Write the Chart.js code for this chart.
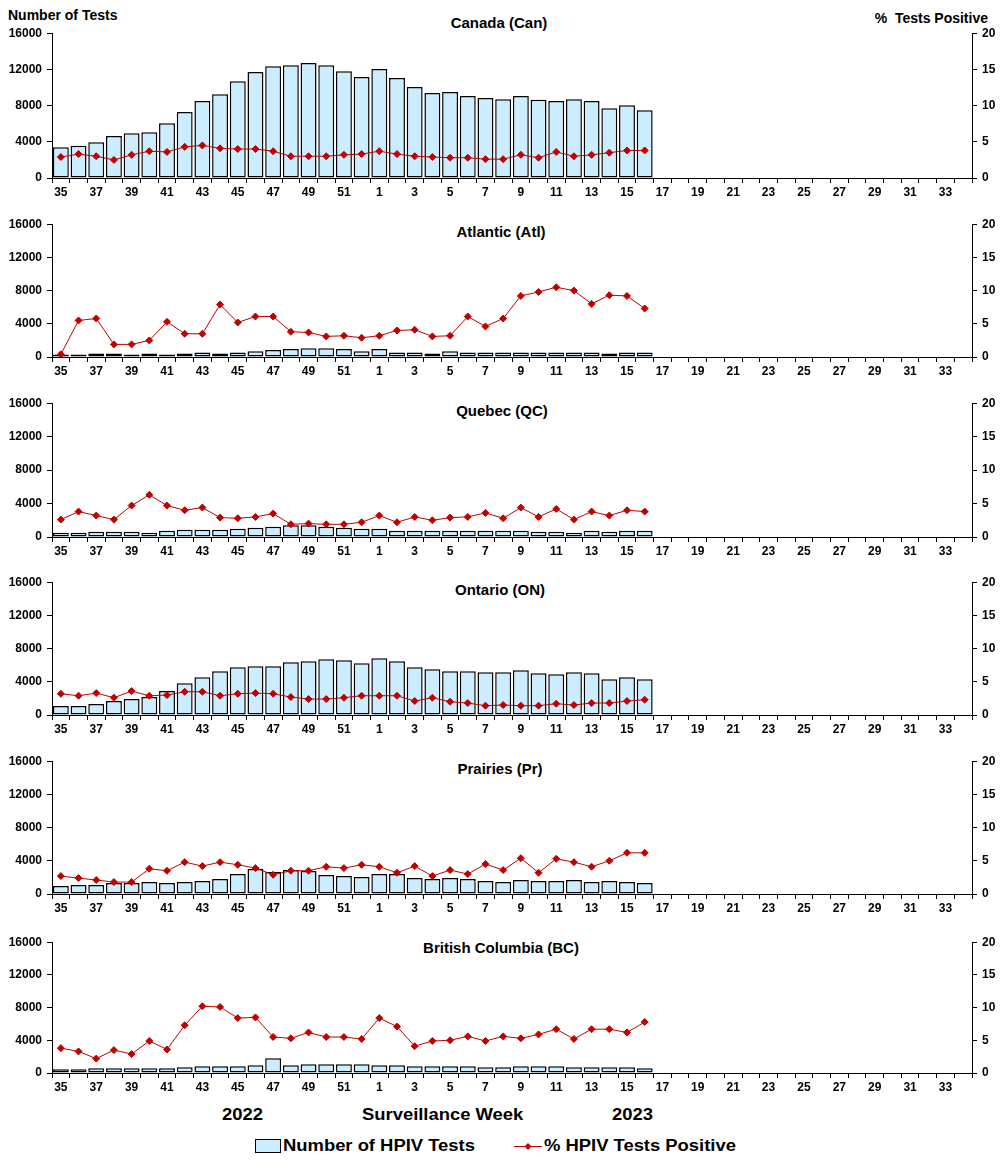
<!DOCTYPE html>
<html>
<head>
<meta charset="utf-8">
<script src="https://cdn.jsdelivr.net/npm/chart.js@4.4.1/dist/chart.umd.min.js"></script>
<style>
  html, body { margin: 0; padding: 0; background: #fff; }
  body { width: 1002px; height: 1170px; position: relative; overflow: hidden;
         font-family: "Liberation Sans", Arial, sans-serif; font-weight: bold; color: #000; }
  canvas { position: absolute; left: 0; }
  .lbl { position: absolute; white-space: nowrap; line-height: 1; }
  .ttl { font-size: 15px; transform: translate(-50%, -50%); }
  .big { font-size: 16px; transform-origin: 0 50%; transform: translateY(-50%) scaleX(1.15); }
  .box { position: absolute; width: 24px; height: 12px; background: #CCECFF; border: 1px solid #000; }
</style>
</head>
<body>
<div class="lbl" style="left:8px; top:8px; font-size:14px;">Number of Tests</div>
<div class="lbl" style="right:14px; top:11px; font-size:14px;">%&nbsp; Tests Positive</div>

<div class="lbl ttl" style="left:499px; top:22px;">Canada (Can)</div>
<div class="lbl ttl" style="left:501px; top:231px;">Atlantic (Atl)</div>
<div class="lbl ttl" style="left:502px; top:410px;">Quebec (QC)</div>
<div class="lbl ttl" style="left:500px; top:589px;">Ontario (ON)</div>
<div class="lbl ttl" style="left:500px; top:768px;">Prairies (Pr)</div>
<div class="lbl ttl" style="left:501px; top:947px;">British Columbia (BC)</div>

<canvas id="c0" width="1002" height="179" style="top:21px"></canvas>
<canvas id="c1" width="1002" height="167" style="top:212px"></canvas>
<canvas id="c2" width="1002" height="168" style="top:391px"></canvas>
<canvas id="c3" width="1002" height="167" style="top:570px"></canvas>
<canvas id="c4" width="1002" height="167" style="top:749px"></canvas>
<canvas id="c5" width="1002" height="165" style="top:930px"></canvas>

<div class="lbl big" style="left:222px; top:1115px;">2022</div>
<div class="lbl big" style="left:362px; top:1115px;">Surveillance Week</div>
<div class="lbl big" style="left:612px; top:1115px;">2023</div>

<div class="box" style="left:255px; top:1139px;"></div>
<div class="lbl big" style="left:283px; top:1146px;">Number of HPIV Tests</div>
<canvas id="legLine" width="28" height="12" style="left:514px; top:1140px;"></canvas>
<div class="lbl big" style="left:544px; top:1146px;">% HPIV Tests Positive</div>

<script>
// semaines de surveillance 35..52 (2022) puis 1..34 (2023)
const weeks = ['35','36','37','38','39','40','41','42','43','44','45','46','47','48','49','50','51','52',
  '1','2','3','4','5','6','7','8','9','10','11','12','13','14','15','16','17','18','19','20',
  '21','22','23','24','25','26','27','28','29','30','31','32','33','34'];

const canTests = [3400,3550,3950,4650,4950,5050,6050,7300,8500,9250,10700,11700,12350,12450,12700,12450,11800,11150,
  12050,11050,10050,9400,9500,9050,8850,8700,9050,8650,8500,8700,8500,7700,8050,7500];
const canPos = [2.9,3.3,3.0,2.5,3.2,3.7,3.6,4.3,4.5,4.1,4.0,4.0,3.7,3.0,3.0,3.0,3.2,3.3,
  3.7,3.3,3.0,2.9,2.8,2.8,2.6,2.6,3.2,2.8,3.6,3.0,3.2,3.5,3.8,3.8];

const atlTests = [300,300,420,420,300,420,300,420,550,420,550,700,850,950,1050,1050,950,700,
  950,550,550,420,700,550,550,550,550,550,550,550,550,420,550,550];
const atlPos = [0.4,5.5,5.8,1.9,1.9,2.5,5.3,3.5,3.5,7.9,5.2,6.1,6.1,3.8,3.7,3.1,3.2,2.9,
  3.2,4.0,4.1,3.1,3.2,6.1,4.6,5.8,9.2,9.8,10.5,10.0,8.0,9.3,9.2,7.3];

const qcTests = [520,520,640,640,640,520,760,880,880,880,1000,1120,1240,1400,1400,1240,1120,1000,
  1000,760,760,760,760,760,760,760,760,640,640,520,760,640,760,760];
const qcPos = [2.6,3.8,3.2,2.6,4.7,6.3,4.7,4.0,4.4,2.9,2.8,3.0,3.5,1.9,2.0,1.9,1.9,2.2,
  3.2,2.2,3.0,2.5,2.9,3.0,3.6,2.8,4.4,3.0,4.2,2.6,3.8,3.2,4.0,3.8];

const onTests = [1080,1080,1320,1680,1920,2160,2880,3840,4560,5280,5760,5880,5880,6360,6480,6720,6600,6240,
  6840,6480,5760,5520,5280,5280,5160,5160,5400,5040,4920,5160,5040,4320,4560,4320];
const onPos = [3.2,2.9,3.3,2.6,3.6,2.9,3.0,3.5,3.5,2.9,3.2,3.3,3.2,2.7,2.4,2.4,2.6,2.9,
  2.9,2.9,2.1,2.6,2.0,1.8,1.4,1.5,1.4,1.4,1.7,1.5,1.8,1.8,2.1,2.3];

const prTests = [960,1080,1080,1320,1320,1440,1320,1440,1560,1800,2400,3000,2640,2880,2760,2280,2160,2040,
  2400,2400,1920,1800,1920,1800,1560,1440,1680,1560,1560,1680,1440,1560,1440,1320];
const prPos = [2.7,2.4,2.1,1.8,1.8,3.8,3.5,4.8,4.2,4.8,4.4,3.9,2.9,3.5,3.5,4.1,3.9,4.4,
  4.1,3.2,4.2,2.7,3.6,3.0,4.5,3.6,5.4,3.2,5.3,4.8,4.1,5.0,6.2,6.2];

const bcTests = [450,450,570,570,570,570,570,690,820,820,820,940,1800,940,1060,1060,1060,1060,
  940,940,820,820,820,820,690,690,820,820,820,690,690,690,690,570];
const bcPos = [3.8,3.3,2.2,3.5,2.9,4.9,3.6,7.3,10.2,10.1,8.4,8.5,5.5,5.3,6.2,5.5,5.5,5.2,
  8.4,7.1,4.1,4.9,5.0,5.6,4.9,5.6,5.3,5.9,6.7,5.2,6.7,6.7,6.2,7.8];

const barFill = '#CCECFF';
const lineRed = '#C00000';
const tickFont = { family: '"Liberation Sans", Arial, sans-serif', size: 12, weight: 'bold' };

function pad(arr) {
  // le reste de la saison n'a pas encore de données
  const out = arr.slice();
  while (out.length < weeks.length) out.push(null);
  return out;
}

function makePanel(id, tests, pos) {
  new Chart(document.getElementById(id), {
    data: {
      labels: weeks,
      datasets: [{
        type: 'line',
        data: pad(pos),
        yAxisID: 'y1',
        borderColor: lineRed,
        borderWidth: 1,
        pointStyle: 'rectRot',
        pointRadius: 3.5,
        pointBackgroundColor: lineRed,
        pointBorderColor: lineRed,
        pointBorderWidth: 1,
        spanGaps: false,
        order: 0
      }, {
        type: 'bar',
        data: pad(tests),
        yAxisID: 'y',
        backgroundColor: barFill,
        borderColor: '#000',
        borderWidth: 1.5,
        borderSkipped: false,
        categoryPercentage: 1,
        barPercentage: 0.9,
        order: 1
      }]
    },
    options: {
      responsive: false,
      animation: false,
      layout: { padding: { top: 8, left: 0, right: 0, bottom: 0 } },
      plugins: { legend: { display: false }, tooltip: { enabled: false } },
      scales: {
        x: {
          type: 'category',
          offset: true,
          afterFit: function(s) { s.height = 22; },
          grid: { offset: true, drawOnChartArea: false, drawTicks: true, tickLength: 5, color: '#000', lineWidth: 1 },
          border: { display: true, color: '#000', width: 1 },
          ticks: {
            autoSkip: false, maxRotation: 0, minRotation: 0, padding: 2,
            color: '#000', font: tickFont,
            callback: function(val, i) { return i % 2 === 0 ? this.getLabelForValue(val) : ''; }
          }
        },
        y: {
          position: 'left',
          min: 0, max: 16000,
          afterFit: function(s) { s.width = 52; },
          grid: { drawOnChartArea: false, drawTicks: true, tickLength: 5, color: '#000' },
          border: { display: true, color: '#000', width: 1 },
          ticks: { stepSize: 4000, padding: 5, color: '#000', font: tickFont,
                   callback: function(v) { return String(v); } }
        },
        y1: {
          position: 'right',
          min: 0, max: 20,
          afterFit: function(s) { s.width = 30; },
          grid: { drawOnChartArea: false, drawTicks: true, tickLength: 5, color: '#000' },
          border: { display: true, color: '#000', width: 1 },
          ticks: { stepSize: 5, padding: 5, color: '#000', font: tickFont,
                   callback: function(v) { return String(v); } }
        }
      }
    }
  });
}

makePanel('c0', canTests, canPos);
makePanel('c1', atlTests, atlPos);
makePanel('c2', qcTests, qcPos);
makePanel('c3', onTests, onPos);
makePanel('c4', prTests, prPos);
makePanel('c5', bcTests, bcPos);

// petit symbole de légende pour la courbe
const lg = document.getElementById('legLine').getContext('2d');
lg.strokeStyle = lineRed;
lg.lineWidth = 1;
lg.beginPath(); lg.moveTo(0, 6.5); lg.lineTo(28, 6.5); lg.stroke();
lg.fillStyle = lineRed;
lg.beginPath(); lg.moveTo(14, 3); lg.lineTo(17.5, 6.5); lg.lineTo(14, 10); lg.lineTo(10.5, 6.5); lg.closePath(); lg.fill();
</script>
</body>
</html>
